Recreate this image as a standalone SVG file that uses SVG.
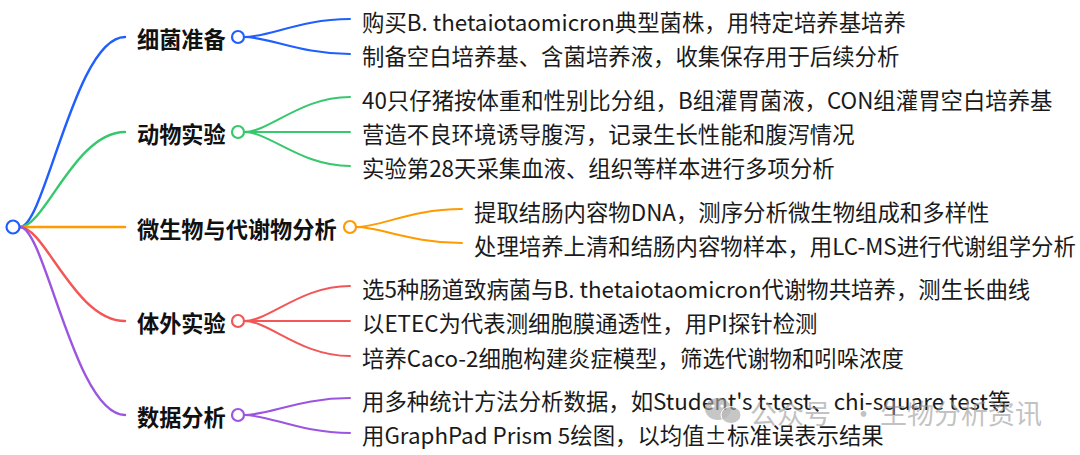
<svg xmlns="http://www.w3.org/2000/svg" width="1080" height="455" viewBox="0 0 1080 455">
<style>
  .edge{fill:none;stroke-width:2.4;stroke-linecap:round}
  .leafedge{fill:none;stroke-width:2;stroke-linecap:round}
  .dot{fill:#fff;stroke-width:2.2}
  .lbl{font-family:"Noto Sans CJK SC","Noto Sans",sans-serif;font-size:22.2px;font-weight:700;fill:#111;dominant-baseline:central}
  .leaf{font-family:"Noto Sans CJK SC","Noto Sans",sans-serif;font-size:22.4px;fill:#1a1a1a;dominant-baseline:central}
  .b{stroke:#1f5eff}.g{stroke:#36c86c}.o{stroke:#ff9a00}.r{stroke:#f35656}.p{stroke:#9b55e0}
  .wm{font-family:"Noto Sans CJK SC","Noto Sans",sans-serif;font-size:27px;fill:#9a9a9a;fill-opacity:0.75;dominant-baseline:central}
</style>
<rect width="1080" height="455" fill="#fff"/>
<g id="connectors">
  <path class="edge b" d="M20 227 C45 227 75 37 125 37"/>
  <path class="edge g" d="M20 227 C45 227 75 132 125 132"/>
  <path class="edge o" d="M20 227 L125 227"/>
  <path class="edge r" d="M20 227 C45 227 75 321 125 321"/>
  <path class="edge p" d="M20 227 C45 227 75 415 125 415"/>
  <path class="leafedge b" d="M244 37 C270 37 300 19 350 19"/>
  <path class="leafedge b" d="M244 37 C270 37 300 54 350 54"/>
  <path class="leafedge g" d="M244 132 C270 132 300 97 350 97"/>
  <path class="leafedge g" d="M244 132 L350 132"/>
  <path class="leafedge g" d="M244 132 C270 132 300 166 350 166"/>
  <path class="leafedge o" d="M356 227 C381 227 411 209 462 209"/>
  <path class="leafedge o" d="M356 227 C381 227 411 243 462 243"/>
  <path class="leafedge r" d="M244 321 C270 321 300 286 350 286"/>
  <path class="leafedge r" d="M244 321 L350 321"/>
  <path class="leafedge r" d="M244 321 C270 321 300 356 350 356"/>
  <path class="leafedge p" d="M244 415 C270 415 300 398 350 398"/>
  <path class="leafedge p" d="M244 415 C270 415 300 433 350 433"/>
</g>
<g id="root"><circle class="dot b" cx="13" cy="227" r="6.5"/></g>
<g id="n1">
  <text class="lbl" x="137" y="38">细菌准备</text>
  <circle class="dot b" cx="238" cy="37" r="6"/>
</g>
<g id="n1a"><text class="leaf" x="362" y="20.5">购买B. thetaiotaomicron典型菌株，用特定培养基培养</text></g>
<g id="n1b"><text class="leaf" x="362" y="55">制备空白培养基、含菌培养液，收集保存用于后续分析</text></g>
<g id="n2">
  <text class="lbl" x="137" y="133">动物实验</text>
  <circle class="dot g" cx="238" cy="132" r="6"/>
</g>
<g id="n2a"><text class="leaf" x="362" y="98.5">40只仔猪按体重和性别比分组，B组灌胃菌液，CON组灌胃空白培养基</text></g>
<g id="n2b"><text class="leaf" x="362" y="133">营造不良环境诱导腹泻，记录生长性能和腹泻情况</text></g>
<g id="n2c"><text class="leaf" x="362" y="167">实验第28天采集血液、组织等样本进行多项分析</text></g>
<g id="n3">
  <text class="lbl" x="137" y="228">微生物与代谢物分析</text>
  <circle class="dot o" cx="350" cy="227" r="6"/>
</g>
<g id="n3a"><text class="leaf" x="474" y="210.5">提取结肠内容物DNA，测序分析微生物组成和多样性</text></g>
<g id="n3b"><text class="leaf" x="474" y="244.5">处理培养上清和结肠内容物样本，用LC-MS进行代谢组学分析</text></g>
<g id="n4">
  <text class="lbl" x="137" y="322">体外实验</text>
  <circle class="dot r" cx="238" cy="321" r="6"/>
</g>
<g id="n4a"><text class="leaf" x="362" y="287.5">选5种肠道致病菌与B. thetaiotaomicron代谢物共培养，测生长曲线</text></g>
<g id="n4b"><text class="leaf" x="362" y="322">以ETEC为代表测细胞膜通透性，用PI探针检测</text></g>
<g id="n4c"><text class="leaf" x="362" y="357">培养Caco-2细胞构建炎症模型，筛选代谢物和吲哚浓度</text></g>
<g id="n5">
  <text class="lbl" x="137" y="416">数据分析</text>
  <circle class="dot p" cx="238" cy="415" r="6"/>
</g>
<g id="n5a"><text class="leaf" x="362" y="399.5">用多种统计方法分析数据，如Student's t-test、chi-square test等</text></g>
<g id="n5b"><text class="leaf" x="362" y="434">用GraphPad Prism 5绘图，以均值±标准误表示结果</text></g>
<g id="watermark" opacity="0.8">
  <ellipse cx="718" cy="409" rx="13" ry="11" fill="#a8a8a8" fill-opacity="0.8"/>
  <ellipse cx="731" cy="415" rx="10" ry="8.5" fill="#a8a8a8" fill-opacity="0.8" stroke="#fff" stroke-width="1"/>
  <circle cx="713" cy="406" r="1.6" fill="#fff"/>
  <circle cx="722" cy="406" r="1.6" fill="#fff"/>
  <text class="wm" y="412"><tspan x="750">公众号</tspan><tspan x="850">·</tspan><tspan x="880">生物分析资讯</tspan></text>
</g>
</svg>
